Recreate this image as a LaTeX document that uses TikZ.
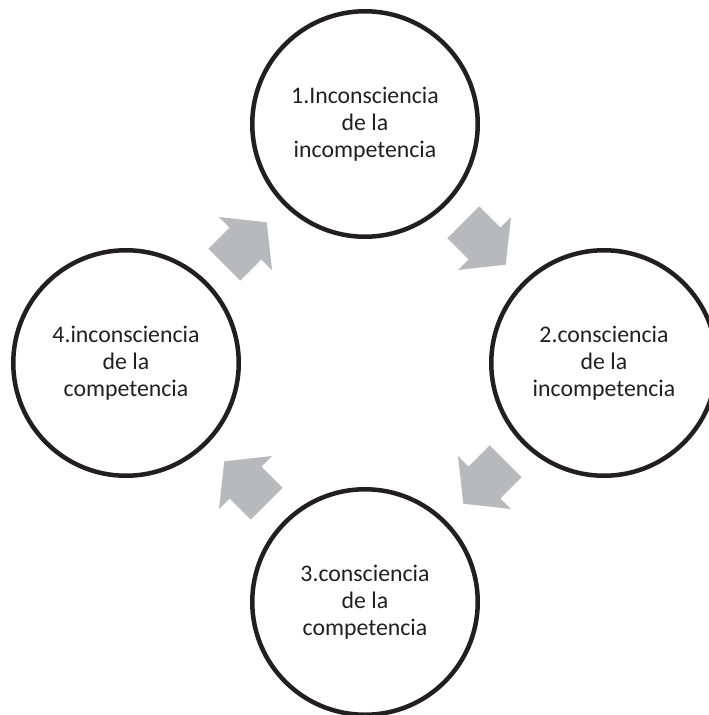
\documentclass[tikz,border=0pt]{standalone}
\usepackage{fontspec}
\setmainfont{Carlito}
\usetikzlibrary{calc}
\definecolor{ringline}{RGB}{35,31,32}
\definecolor{arrowgray}{RGB}{184,185,188}
\definecolor{txt}{RGB}{35,31,32}
\tikzset{
  stage/.style={circle, draw=ringline, line width=4.5pt, minimum size=225.5pt,
    inner sep=0pt, align=center, text=txt, font=\fontsize{23.8}{27}\selectfont},
  blockarrow/.style={fill=arrowgray, draw=none}
}
\begin{document}
\begin{tikzpicture}[x=1pt,y=-1pt]
\useasboundingbox (0,0) rectangle (709,715);
\clip (0,0) rectangle (709,715);
\node[stage] (c1) at (365,124) {1.Inconsciencia\\de la\\incompetencia};
\node[stage] (c2) at (604,363) {2.consciencia\\de la\\incompetencia};
\node[stage] (c3) at (365,602) {3.consciencia\\de la\\competencia};
\node[stage] (c4) at (126,363) {4.inconsciencia\\de la\\competencia};
\coordinate (m1) at ($(c4.center)!0.5!(c1.center)$);
\coordinate (m2) at ($(c1.center)!0.5!(c2.center)$);
\coordinate (m3) at ($(c2.center)!0.5!(c3.center)$);
\coordinate (m4) at ($(c3.center)!0.5!(c4.center)$);
\foreach \m/\ang in {m1/45, m2/-45, m3/-135, m4/135}{
  \fill[blockarrow, shift={(\m)}, rotate=\ang]
    (-30,-22.6) -- (0,-22.6) -- (0,-37.5) -- (30,0) -- (0,37.5) -- (0,22.6) -- (-30,22.6) -- cycle;
}
\end{tikzpicture}
\end{document}
